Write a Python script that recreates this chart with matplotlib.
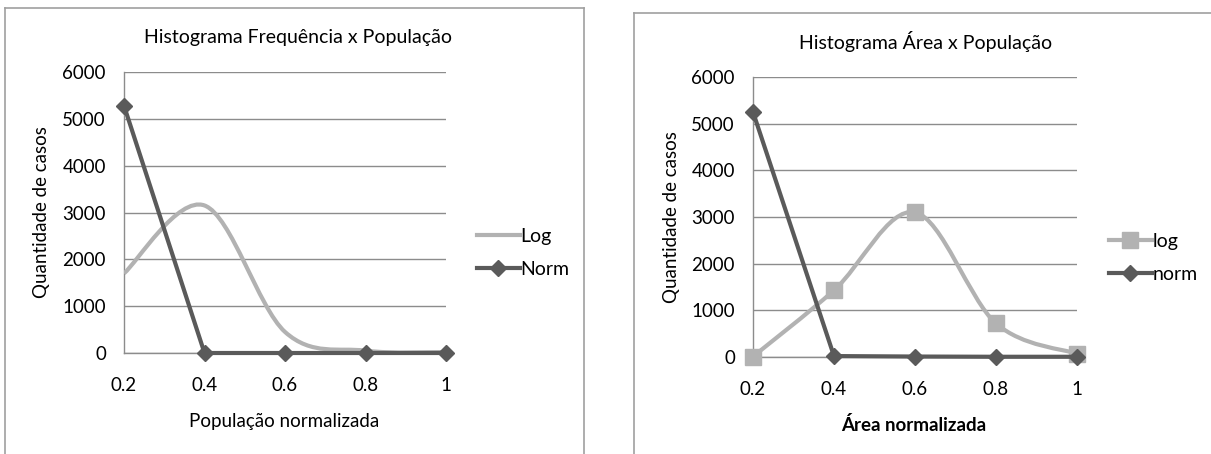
import matplotlib
matplotlib.use("Agg")
import matplotlib.pyplot as plt
from matplotlib.lines import Line2D
from matplotlib.path import Path
from matplotlib.patches import PathPatch
import numpy as np

W, H = 1211, 454

x_labels = ["0.2", "0.4", "0.6", "0.8", "1"]
freq_log = [1700, 3150, 450, 50, 20]
freq_norm = [5280, 0, 0, 0, 0]
area_log = [10, 1430, 3100, 720, 70]
area_norm = [5250, 20, 10, 5, 5]

NORM_C = "#5a5a5a"
LOG_C = "#b2b2b2"
GRID_C = "#8c8c8c"
FRAME_C = "#a0a0a0"

plt.rcParams["font.family"] = ["Lato", "DejaVu Sans"]
plt.rcParams["font.size"] = 13.5


def px(x, y):
    # pixel (from top-left) -> figure fraction
    return x / W, 1 - y / H


def smooth_path(xs, ys):
    # Excel-like smoothed line: cubic Bezier with Catmull-Rom control points
    pts = np.column_stack([xs, ys]).astype(float)
    ext = np.vstack([pts[0], pts, pts[-1]])
    verts = [pts[0]]
    codes = [Path.MOVETO]
    for i in range(len(pts) - 1):
        p0, p1, p2, p3 = ext[i], ext[i + 1], ext[i + 2], ext[i + 3]
        c1 = p1 + (p2 - p0) / 6
        c2 = p2 - (p3 - p1) / 6
        verts += [c1, c2, p2]
        codes += [Path.CURVE4] * 3
    return Path(verts, codes)


def setup_axes(ax):
    ax.set_xlim(0, len(x_labels) - 1)
    ax.set_ylim(0, 6000)
    ax.set_yticks(range(0, 6001, 1000))
    ax.set_xticks(range(len(x_labels)))
    ax.set_xticklabels(x_labels)
    ax.tick_params(length=0)
    ax.tick_params(axis="y", pad=13)
    ax.tick_params(axis="x", pad=17)
    for s in ("top", "right"):
        ax.spines[s].set_visible(False)
    for s in ("left", "bottom"):
        ax.spines[s].set_color(GRID_C)
        ax.spines[s].set_linewidth(1)
    ax.grid(True, axis="y", color=GRID_C, linewidth=1)
    ax.set_axisbelow(True)


fig = plt.figure(figsize=(W / 100, H / 100), dpi=100)

# panel frames
for (xa, ya), (xb, yb) in [((5, 8), (5, 454)), ((5, 8), (584, 8)), ((584, 8), (584, 454)),
                           ((634, 13), (634, 454)), ((634, 13), (1211, 13))]:
    a, b = px(xa, ya), px(xb, yb)
    fig.add_artist(Line2D([a[0], b[0]], [a[1], b[1]], color=FRAME_C, lw=1.2))

idx = np.arange(len(x_labels))

# left chart
ax1 = fig.add_axes([124 / W, 1 - 353 / H, (446 - 124) / W, (353 - 72) / H])
setup_axes(ax1)
ax1.add_patch(PathPatch(smooth_path(idx, freq_log), fill=False, edgecolor=LOG_C, lw=3, zorder=3))
ax1.plot(idx, freq_norm, color=NORM_C, lw=3, marker="D", markersize=8, clip_on=False, zorder=4)
h_log1 = Line2D([], [], color=LOG_C, lw=3)
h_norm1 = Line2D([], [], color=NORM_C, lw=3, marker="D", markersize=8)
ax1.legend([h_log1, h_norm1], ["Log", "Norm"], frameon=False, loc="center left", fontsize=14,
           bbox_to_anchor=px(477, 253), bbox_transform=fig.transFigure,
           handlelength=2.2, handletextpad=0.05, labelspacing=0.8, borderpad=0, borderaxespad=0)
fig.text(*px(298, 37), "Histograma Frequência x População", ha="center", va="center", fontsize=14)
fig.text(*px(284, 421), "População normalizada", ha="center", va="center")
fig.text(*px(42, 212), "Quantidade de casos", ha="center", va="center", rotation=90)

# right chart
ax2 = fig.add_axes([753 / W, 1 - 357 / H, (1077 - 753) / W, (357 - 77) / H])
setup_axes(ax2)
ax2.add_patch(PathPatch(smooth_path(idx, area_log), fill=False, edgecolor=LOG_C, lw=3, zorder=3))
ax2.plot(idx, area_log, color=LOG_C, lw=0, marker="s", markersize=11, clip_on=False, zorder=3)
ax2.plot(idx, area_norm, color=NORM_C, lw=3, marker="D", markersize=8, clip_on=False, zorder=4)
h_log2 = Line2D([], [], color=LOG_C, lw=3, marker="s", markersize=11)
h_norm2 = Line2D([], [], color=NORM_C, lw=3, marker="D", markersize=8)
ax2.legend([h_log2, h_norm2], ["log", "norm"], frameon=False, loc="center left", fontsize=14,
           bbox_to_anchor=px(1109, 258), bbox_transform=fig.transFigure,
           handlelength=2.2, handletextpad=0.05, labelspacing=0.8, borderpad=0, borderaxespad=0)
fig.text(*px(926, 42), "Histograma Área x População", ha="center", va="center", fontsize=14)
fig.text(*px(914, 425), "Área normalizada", ha="center", va="center", fontweight="bold")
fig.text(*px(672, 217), "Quantidade de casos", ha="center", va="center", rotation=90)

fig.savefig("out.png", dpi=100)
